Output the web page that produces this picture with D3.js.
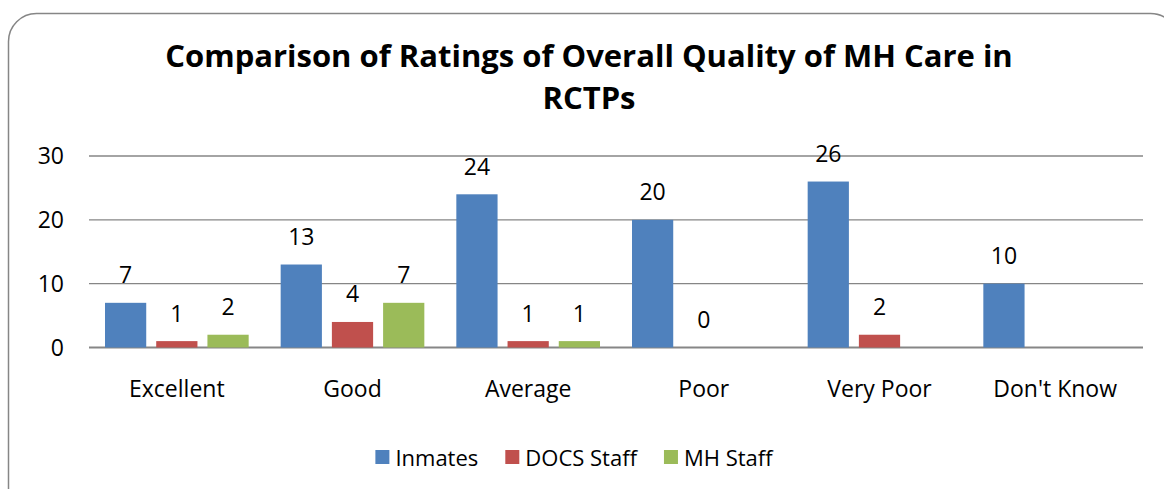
<!DOCTYPE html>
<html><head><meta charset="utf-8">
<script src="https://cdn.jsdelivr.net/npm/d3@7"></script>
<style>body{margin:0;background:#fff}svg{display:block}text{font-family:"Open Sans",sans-serif}</style>
</head><body>
<svg id="c" width="1164" height="489"></svg>
<script>
const categories = ["Excellent","Good","Average","Poor","Very Poor","Don't Know"];
const seriesNames = ["Inmates","DOCS Staff","MH Staff"];
const inmates = [7,13,24,20,26,10];
const docsStaff = [1,4,1,0,2,null];
const mhStaff = [2,7,1,null,null,null];
const yTicks = [0,10,20,30];
const colors = ["#4F81BD","#C0504D","#9BBB59"];
const titleLines = ["Comparison of Ratings of Overall Quality of MH Care in","RCTPs"];

const values = [inmates, docsStaff, mhStaff];
const svg = d3.select("#c");
const FS = 23;

svg.append("rect").attr("x",8.5).attr("y",13.5).attr("width",1170).attr("height",520)
  .attr("rx",28).attr("ry",28).attr("fill","#fff").attr("stroke","#868686").attr("stroke-width",1.5);

const x0 = d3.scaleBand().domain(categories).range([89,1143]).padding(0);
const x1 = d3.scaleBand().domain(seriesNames).range([16, x0.bandwidth()-16]).paddingInner(0.195).paddingOuter(0);
const y = d3.scaleLinear().domain([0,30]).range([347.5,156]);

// gridlines
svg.append("g").selectAll("line").data(yTicks).join("line")
  .attr("x1",89).attr("x2",1143)
  .attr("y1",d=>y(d)).attr("y2",d=>y(d))
  .attr("stroke","#868686").attr("stroke-width",d=>d===0?2:1.3);

// y labels
svg.append("g").selectAll("text").data(yTicks).join("text")
  .attr("x",64).attr("y",d=>y(d)+8).attr("text-anchor","end")
  .attr("font-size",FS).attr("fill","#000").text(d=>d);

// bars
const g = svg.append("g");
seriesNames.forEach((s,si)=>{
  const data = categories.map((c,i)=>({c, v: values[si][i]})).filter(d=>d.v!==null);
  g.selectAll(null).data(data).join("rect")
    .attr("x",d=>x0(d.c)+x1(s)).attr("width",x1.bandwidth())
    .attr("y",d=>y(d.v)).attr("height",d=>y(0)-y(d.v))
    .attr("fill",colors[si]);
  g.selectAll(null).data(data).join("text")
    .attr("x",d=>x0(d.c)+x1(s)+x1.bandwidth()/2)
    .attr("y",d=>y(d.v)-19.5).attr("text-anchor","middle")
    .attr("font-size",FS).attr("fill","#000").text(d=>d.v);
});

// category labels
svg.append("g").selectAll("text").data(categories).join("text")
  .attr("x",d=>x0(d)+x0.bandwidth()/2).attr("y",397).attr("text-anchor","middle")
  .attr("font-size",FS).attr("fill","#000").text(d=>d);

// title
const tt = svg.append("g").selectAll("text").data(titleLines).join("text")
  .attr("x",589).attr("y",(d,i)=>67+i*42).attr("text-anchor","middle")
  .attr("font-size",31).attr("font-weight","bold").attr("fill","#000").text(d=>d);
const w0 = tt.nodes()[0].getComputedTextLength();
tt.attr("font-size", 31*848/w0);

// legend
const lg = svg.append("g");
let lx = 0;
seriesNames.forEach((s,i)=>{
  const it = lg.append("g").attr("transform",`translate(${lx},0)`);
  it.append("rect").attr("x",0).attr("y",450).attr("width",14).attr("height",14).attr("fill",colors[i]);
  const t = it.append("text").attr("x",20).attr("y",466).attr("font-size",22).attr("fill","#000").text(s);
  lx += 20 + t.node().getComputedTextLength() + 27;
});
const total = lx - 27;
lg.attr("transform",`translate(${574 - total/2},0)`);
</script>
</body></html>
